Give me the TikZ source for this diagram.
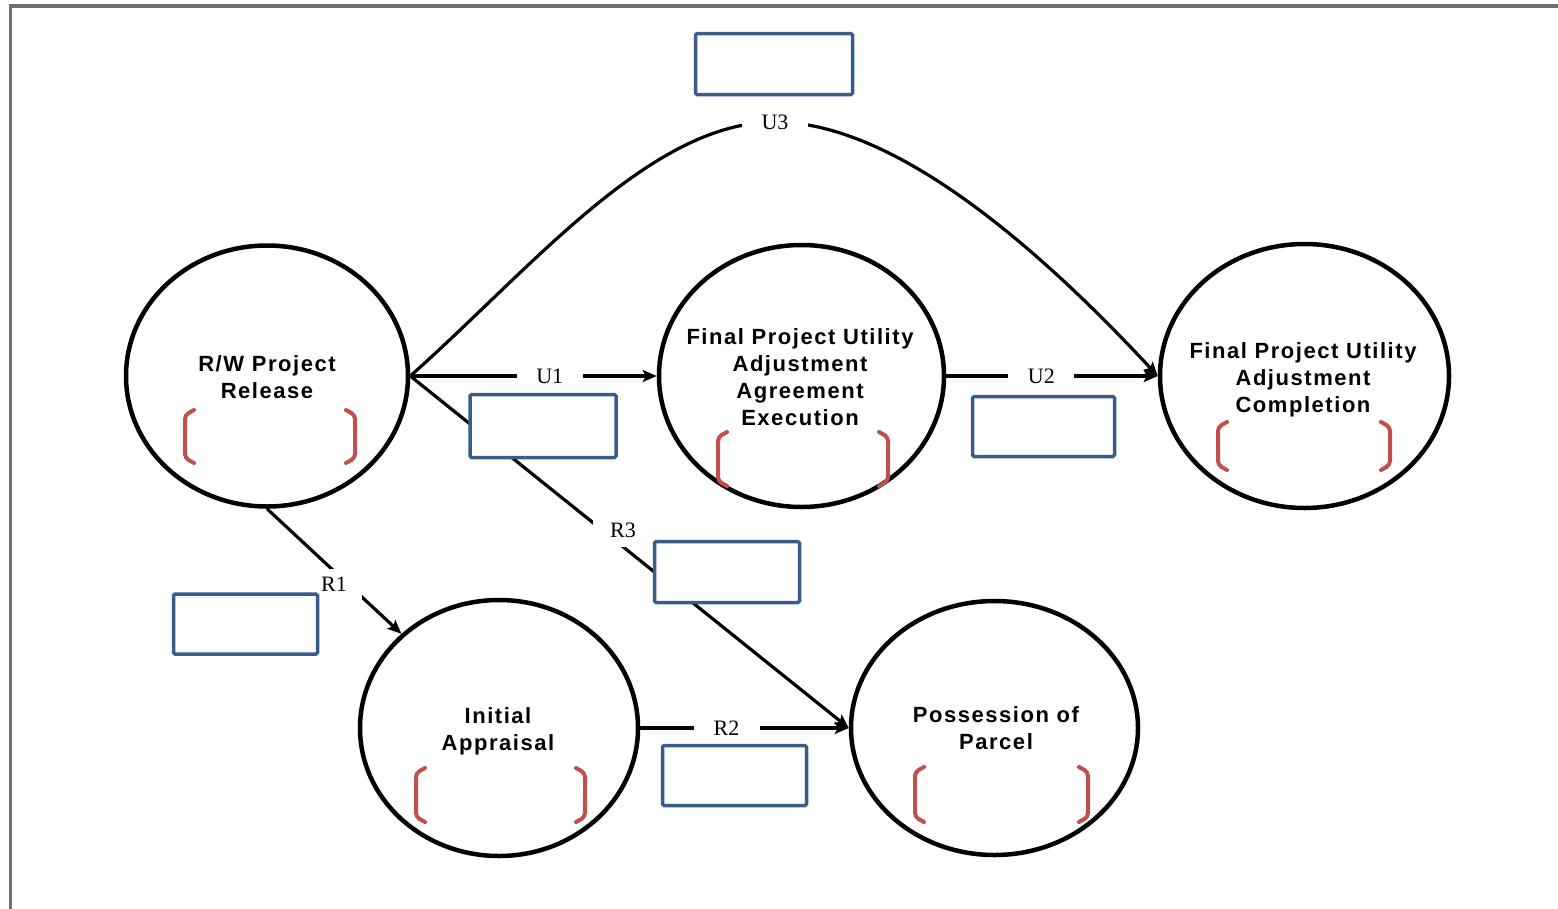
\documentclass[tikz,border=0pt]{standalone}
\usepackage{fontspec}
\setmainfont{Liberation Serif}
\newfontfamily\circfont[LetterSpace=7]{Liberation Sans}
\usetikzlibrary{shapes.geometric,arrows.meta}
\definecolor{boxblue}{HTML}{385D8A}
\definecolor{brkred}{HTML}{C0504D}
\definecolor{framegray}{HTML}{6E6E6E}

% a pair of red brackets: left x, right x, top y, bottom y
\newcommand\bracketpair[4]{%
  \draw[brk] (#1+9,#3) -- (#1,#3+5) -- (#1,#4-5) -- (#1+9,#4);
  \draw[brk] (#2-9,#3) -- (#2,#3+5) -- (#2,#4-5) -- (#2-9,#4);}

\begin{document}
\begin{tikzpicture}[x=1pt,y=-1pt,
  state/.style={ellipse,draw,line width=4.5pt,inner sep=0pt},
  caption/.style={font=\circfont\bfseries\fontsize{22}{27}\selectfont,
    align=center,anchor=north,inner sep=0pt},
  slot/.style={draw=boxblue,line width=3.5pt,fill=white,rounded corners=1.5pt,inner sep=0pt},
  flow/.style={line width=3.2pt,-{Stealth[length=14pt,width=12pt,inset=3pt]}},
  tag/.style={font=\fontsize{22}{26}\selectfont,fill=white,inner sep=0pt,
    minimum width=66pt,minimum height=28pt},
  brk/.style={draw=brkred,line width=4pt,rounded corners=4pt,line cap=round}
]
\useasboundingbox (0,0) rectangle (1558,908);

% frame
\draw[framegray,line width=3.5pt] (10.5,930) -- (10.5,6) -- (1580,6);

% milestones
\node[state,minimum width=282pt,minimum height=261pt] (A) at (267,376) {};
\node[state,minimum width=285pt,minimum height=262pt] (B) at (801.5,376) {};
\node[state,minimum width=289pt,minimum height=264pt] (C) at (1304.5,376) {};
\node[state,minimum width=278pt,minimum height=256pt] (D) at (499,728) {};
\node[state,minimum width=287pt,minimum height=254pt] (E) at (994.5,728) {};

\node[caption] (At) at (267,355) {R/W Project\\Release};
\node[caption] (Bt) at (800,328) {Final Project Utility\\Adjustment\\Agreement\\Execution};
\node[caption] (Ct) at (1303,342) {Final Project Utility\\Adjustment\\Completion};
\node[caption] (Dt) at (498,707) {Initial\\Appraisal};
\node[caption] (Et) at (996,706) {Possession of\\Parcel};

\bracketpair{185}{355}{410}{463}
\bracketpair{718}{888}{432}{486}
\bracketpair{1218}{1390}{422}{470}
\bracketpair{416}{585}{768}{822}
\bracketpair{915}{1088}{767}{822}

% connectors
\draw[flow] (A.east) -- node[tag,pos=0.566] (lu1) {U1} (B.west);
\draw[flow] (B.east) -- node[tag,pos=0.45] (lu2) {U2} (C.west);
\draw[flow] (A.east) .. controls (530,270) and (650,122) .. (775,122)
  node[tag] (lu3) {U3}
  .. controls (900,122) and (1050,260) .. (C.west);
\draw[flow] (A.east) -- (E.west);
\node[tag,minimum width=60pt,minimum height=34pt] (lr3) at (623,530) {R3};
\draw[flow] (A.south) -- (D.136);
\node[tag,minimum width=56pt,minimum height=30pt] (lr1) at (334,584) {R1};
\draw[flow] (D.east) -- node[tag,pos=0.414] (lr2) {R2} (E.west);

% blank boxes
\node[slot,minimum width=157pt,minimum height=61pt] (s3) at (774,64) {};
\node[slot,minimum width=146pt,minimum height=63pt] (s1) at (543,426) {};
\node[slot,minimum width=142pt,minimum height=60pt] (s2) at (1043.5,426.5) {};
\node[slot,minimum width=145pt,minimum height=61pt] (sr3) at (727,572) {};
\node[slot,minimum width=144pt,minimum height=60pt] (sr1) at (245.5,624) {};
\node[slot,minimum width=144pt,minimum height=60pt] (sr2) at (734.5,775.5) {};
\end{tikzpicture}
\end{document}
